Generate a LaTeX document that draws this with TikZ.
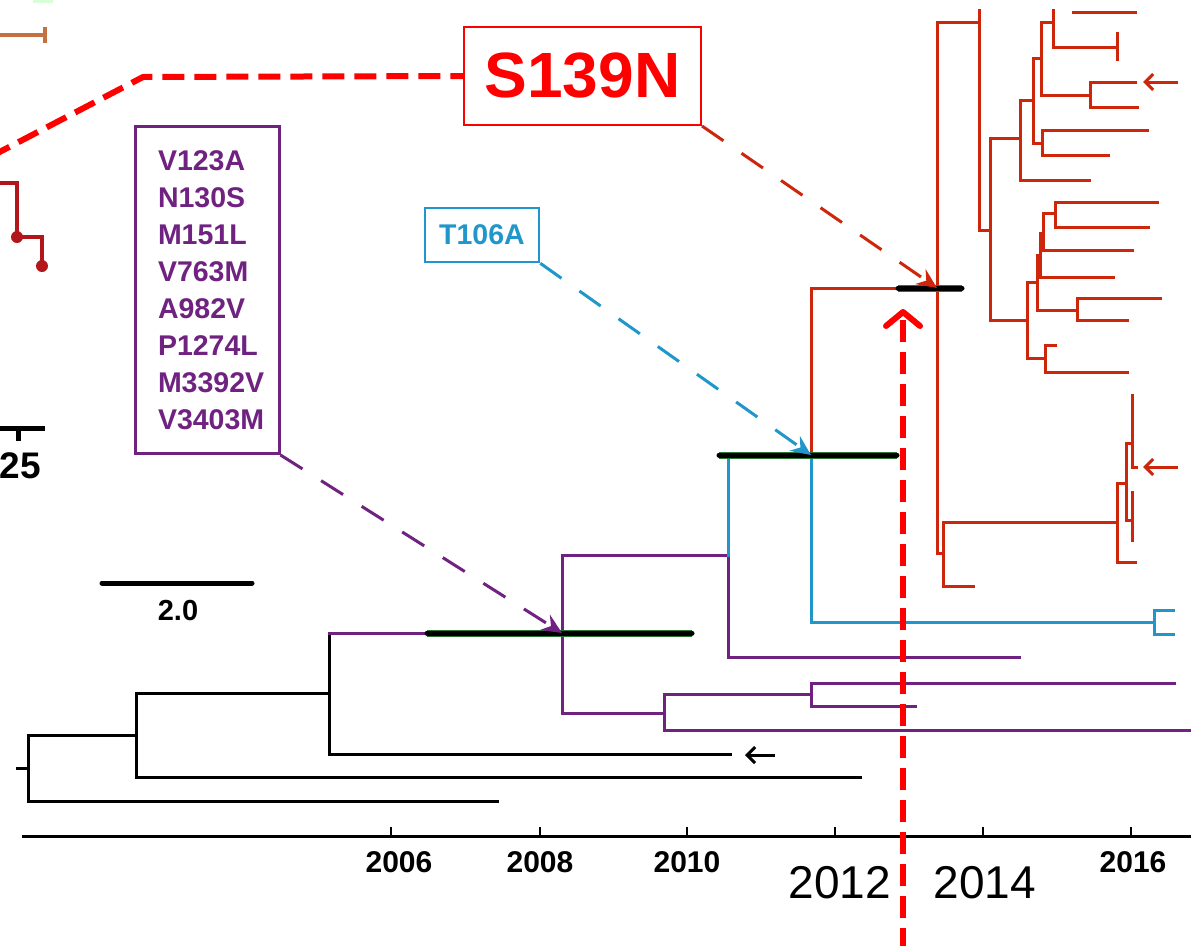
\documentclass[tikz,border=0pt]{standalone}
\usepackage{fontspec}
\setmainfont{Liberation Sans}
\usetikzlibrary{arrows.meta}
\definecolor{cladered}{RGB}{206,38,10}
\definecolor{cladepurple}{RGB}{112,34,128}
\definecolor{cladeblue}{RGB}{32,150,202}
\definecolor{hpdgreen}{RGB}{40,120,50}
\definecolor{panelred}{RGB}{178,22,26}
\definecolor{panelorange}{RGB}{196,112,64}
\definecolor{markred}{RGB}{255,0,0}
\tikzstyle{branch}=[line width=3pt, line cap=rect]
\tikzstyle{hpd}=[line width=5pt, black, line cap=round, preaction={draw=hpdgreen, line width=7pt}]
\tikzstyle{mutbox}=[draw, fill=white, inner sep=0pt, align=center]
\tikzstyle{notearrow}=[line width=3pt, dash pattern=on 26pt off 22pt, -{Stealth[length=20pt,width=18pt,inset=7pt]}]
\tikzstyle{markline}=[line width=6pt, markred, dash pattern=on 22pt off 10pt]
\tikzstyle{leafarrow}=[line width=3pt, -{Straight Barb[length=8pt,width=16pt]}]
\tikzstyle{yearlab}=[font=\bfseries\fontsize{30}{36}\selectfont]
\newcommand{\mutfont}{\bfseries\fontsize{28.5}{37}\selectfont}

\begin{document}
\begin{tikzpicture}[x=1pt,y=-1pt]
\useasboundingbox (0,0) rectangle (1191,945);
%%bits of the panel on the left
\fill[green!15] (33,0) rectangle (53,3);
\draw[line width=4pt, panelorange] (0,35) -- (45,35) (45,27) -- (45,43);
\draw[line width=4pt, panelred] (0,183) -| (17,237) -| (42,266);
\fill[panelred] (17,237) circle (6pt) (42,266) circle (6pt);
\draw[line width=5pt] (0,428) -- (45,428) (18,428) -- (18,441);
\node[font=\bfseries\fontsize{37}{44}\selectfont, inner sep=0pt] (quarter) at (20.5,466) {25};
%scale bar
\draw[line width=5pt, line cap=round] (102,583) -- (252,583);
\node[yearlab, font=\bfseries\fontsize{29}{35}\selectfont] (twolab) at (178,611) {2.0};

%%black branches
\draw[branch] (17,768) -- (28,768)
  (28,735) -- (28,801) -- (497,801) (28,735) -- (136,735)
  (136,693) -- (136,777) -- (860,777) (136,693) -- (329,693)
  (329,633) -- (329,754) -- (730,754);
\draw[leafarrow] (775,755) -- (745,755);
%%purple branches
\draw[branch, cladepurple] (329,633) -- (562,633)
  (562,555) -- (562,713) -- (664,713) (562,555) -- (728,555)
  (728,555) -- (728,657) -- (1019,657)
  (664,694) -- (664,730) -- (1191,730) (664,694) -- (811,694)
  (811,683) -- (811,706) -- (915,706) (811,683) -- (1174,683);
%%blue branches
\draw[branch, cladeblue] (728,455) -- (728,555) (728,455) -- (811,455)
  (811,455) -- (811,622) -- (1154,622)
  (1173,610) -- (1154,610) -- (1154,634) -- (1173,634);
%%red branches
\draw[branch, cladered] (811,455) -- (811,288) -- (937,288)
  (937,22) -- (937,553) -- (943,553)
  (943,522) -- (943,586) -- (973,586) (943,522) -- (1117,522)
  (937,22) -- (979,22)
  (979,10) -- (979,230) -- (990,230)
  (990,138) -- (990,320) -- (1027,320) (990,138) -- (1020,138)
  (1020,100) -- (1020,180) -- (1089,180) (1020,100) -- (1033,100)
  (1033,58) -- (1033,143) -- (1042,143) (1033,58) -- (1041,58)
  (1042,130) -- (1042,155) -- (1108,155) (1042,130) -- (1147,130)
  (1041,22) -- (1041,95) -- (1090,95) (1041,22) -- (1053,22)
  (1090,82) -- (1090,107) -- (1137,107) (1090,82) -- (1135,82)
  (1053,10) -- (1053,47) -- (1117,47) (1073,12) -- (1135,12)
  (1117,33) -- (1117,59)
  (1027,282) -- (1027,358) -- (1045,358) (1027,282) -- (1037,282)
  (1045,345) -- (1045,372) -- (1127,372) (1045,345) -- (1055,345)
  (1037,255) -- (1037,310) -- (1077,310) (1037,255) -- (1040,255)
  (1077,298) -- (1077,320) -- (1127,320) (1077,298) -- (1160,298)
  (1040,233) -- (1040,277) -- (1113,277) (1040,233) -- (1043,233)
  (1043,213) -- (1043,250) -- (1132,250) (1043,213) -- (1055,213)
  (1055,202) -- (1055,227) -- (1148,227) (1055,202) -- (1157,202)
  (1117,483) -- (1117,562) -- (1135,562) (1117,483) -- (1126,483)
  (1126,443) -- (1126,520) (1126,443) -- (1132,443) (1126,520) -- (1132,520)
  (1132,395) -- (1132,467) -- (1136,467) (1132,492) -- (1132,540);
\draw[leafarrow, cladered] (1178,82) -- (1143,82);
\draw[leafarrow, cladered] (1178,467) -- (1143,467);
%%green bars
\draw[hpd] (427,633) -- (692,633);
\draw[hpd] (719,455) -- (897,455);
\draw[hpd] (898,288) -- (962,288);

%time axis
\draw[line width=3pt] (22,836) -- (1191,836);
\foreach \x in {391,540,687,835,983,1131}{\draw[line width=2.5pt] (\x,836) -- (\x,827);}
\foreach \x/\yr in {399/2006,540/2008,687/2010,1133/2016}{
	\node[yearlab] (yr\yr) at (\x,862) {\yr};}
\node[font=\fontsize{46}{55}\selectfont] (yrbig12) at (840,883) {2012};
\node[font=\fontsize{46}{55}\selectfont] (yrbig14) at (985,883) {2014};

%%mutation boxes
\coordinate (purplenode) at (562,633);
\coordinate (bluenode) at (811,455);
\coordinate (rednode) at (937,288);
\node[mutbox, line width=3pt, draw=cladepurple, text=cladepurple, font=\mutfont,
  align=left, text width=98pt, minimum width=144pt, minimum height=327pt] (purplemut) at (207,290)
  {V123A\\N130S\\M151L\\V763M\\A982V\\P1274L\\M3392V\\V3403M};
\node[mutbox, line width=2.5pt, draw=cladeblue, text=cladeblue, font=\mutfont,
  minimum width=114pt, minimum height=54pt] (bluemut) at (482,235) {T106A};
\node[mutbox, line width=2pt, draw=markred, text=markred, font=\bfseries\fontsize{64}{72}\selectfont,
  minimum width=237pt, minimum height=98pt] (redmut) at (582.5,76) {S139N};
\draw[notearrow, cladepurple] (purplemut.south east) -- (purplenode);
\draw[notearrow, cladeblue] (bluemut.south east) -- (bluenode);
\draw[notearrow, cladered] (redmut.south east) -- (rednode);
%red marker
\coordinate (markstart) at (-10,157);
\coordinate (markbend) at (143,77);
\coordinate (markbottom) at (903,950);
\coordinate (marktop) at (903,309);
\draw[markline] (markstart) -- (markbend) -- (redmut.west);
\draw[markline, -{Straight Barb[length=14pt,width=34pt,round]}] (markbottom) -- (marktop);
\end{tikzpicture}
\end{document}
